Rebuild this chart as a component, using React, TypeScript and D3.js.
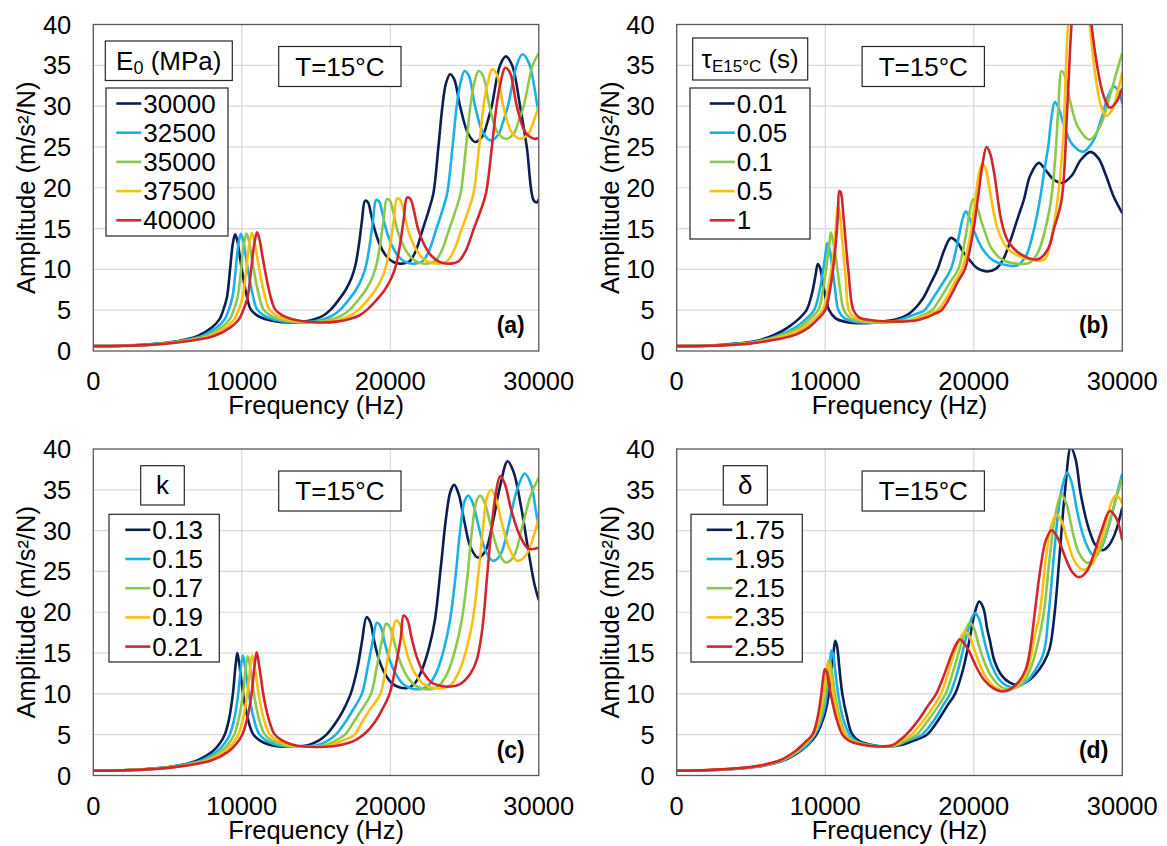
import React from "react";
import * as d3 from "d3";

type Pt = [number, number];

const COLORS = ["#0b1f55", "#1cb0e8", "#8cc84b", "#fbbf10", "#d0262e"];
const X_TICKS = [0, 10000, 20000, 30000];
const Y_TICKS = [0, 5, 10, 15, 20, 25, 30, 35, 40];
const X_GRID = [10000, 20000];
const Y_GRID = [5, 10, 15, 20, 25, 30, 35];

// ---------- Panel (a): E0 (MPa) ----------
const aLabels = ["30000", "32500", "35000", "37500", "40000"];
const aE30000: Pt[] = [[0,0.6],[2000,0.65],[4000,0.85],[5500,1.15],[7000,1.8],[8000,2.9],[8500,3.9],[8750,5],[9000,6.6],[9210,10],[9400,13.2],[9550,14.3],[9700,13.5],[9850,11.8],[10000,10],[10300,7],[10600,5.1],[11000,4.4],[11500,3.95],[12200,3.65],[13200,3.5],[14200,3.6],[15000,3.95],[15500,4.35],[16000,5.1],[16500,6.2],[17000,7.5],[17400,9],[17650,10.5],[17900,13.2],[18100,16.1],[18300,18.4],[18500,18.2],[18700,16.8],[18930,15],[19300,13],[19700,11.7],[20200,10.9],[20800,10.7],[21300,11],[21700,12.2],[22200,15],[22600,17.3],[22900,19.3],[23240,25],[23510,30],[23750,32.8],[24025,33.9],[24300,33.3],[24700,30],[25200,26.8],[25710,25.6],[26200,26.3],[26500,27.8],[26830,30],[27390,35],[27780,36.1],[28200,35],[28740,30],[29190,25],[29640,18.5],[29850,18.2],[30000,18.6]];
const aE32500: Pt[] = [[0,0.6],[2000,0.65],[4000,0.83],[5500,1.1],[7300,1.8],[8330,2.9],[8850,3.9],[9110,5],[9370,6.6],[9590,10],[9780,13.2],[9940,14.35],[10100,13.5],[10250,11.8],[10410,10],[10720,7],[11030,5.1],[11450,4.4],[11970,3.95],[12700,3.65],[13740,3.5],[14780,3.6],[15610,3.95],[16130,4.35],[16650,5.1],[17170,6.2],[17690,7.5],[18110,9],[18370,10.5],[18630,13.2],[18840,16.1],[19050,18.5],[19250,18.3],[19460,16.9],[19700,15],[20090,13],[20500,11.7],[21020,10.9],[21650,10.7],[22170,11],[22590,12.2],[23110,15],[23520,17.3],[23830,19.3],[24190,25],[24470,30],[24720,32.8],[25000,34.3],[25290,33.7],[25710,30],[26230,26.8],[26760,25.8],[27270,26.5],[27580,28],[27920,30],[28510,35],[28900,36.35],[29350,35.2],[29910,30],[30000,29.3]];
const aE35000: Pt[] = [[0,0.6],[2000,0.64],[4000,0.81],[5500,1.07],[7560,1.8],[8640,2.9],[9180,3.9],[9450,5],[9720,6.6],[9950,10],[10150,13.2],[10320,14.4],[10480,13.5],[10640,11.8],[10800,10],[11130,7],[11450,5.1],[11880,4.4],[12420,3.95],[13180,3.65],[14260,3.5],[15340,3.6],[16200,3.95],[16740,4.35],[17280,5.1],[17820,6.2],[18360,7.5],[18790,9],[19060,10.5],[19330,13.2],[19550,16.1],[19770,18.6],[19980,18.4],[20200,17],[20450,15],[20850,13],[21280,11.7],[21820,10.9],[22470,10.7],[23010,11],[23440,12.2],[23980,15],[24410,17.3],[24730,19.3],[25100,25],[25390,30],[25650,32.8],[25950,34.3],[26250,33.7],[26680,30],[27220,26.8],[27770,26],[28300,26.6],[28620,28],[28980,30],[29590,35],[30000,36.5]];
const aE37500: Pt[] = [[0,0.6],[2000,0.64],[4000,0.8],[5500,1.05],[7830,1.8],[8940,2.9],[9500,3.9],[9780,5],[10060,6.6],[10300,10],[10510,13.2],[10680,14.45],[10840,13.5],[11010,11.8],[11180,10],[11520,7],[11850,5.1],[12300,4.4],[12860,3.95],[13640,3.65],[14760,3.5],[15880,3.6],[16770,3.95],[17330,4.35],[17890,5.1],[18450,6.2],[19010,7.5],[19450,9],[19730,10.5],[20010,13.2],[20240,16.1],[20460,18.7],[20680,18.5],[20910,17.1],[21160,15],[21580,13],[22020,11.7],[22580,10.9],[23250,10.7],[23810,11],[24260,12.2],[24820,15],[25270,17.3],[25600,19.3],[25980,25],[26280,30],[26550,32.8],[26860,34.5],[27170,33.9],[27610,30],[28170,26.8],[28740,26],[29290,26.6],[29630,28],[30000,30]];
const aE40000: Pt[] = [[0,0.6],[2000,0.63],[4000,0.78],[5500,1.02],[8080,1.8],[9240,2.9],[9810,3.9],[10100,5],[10390,6.6],[10630,10],[10850,13.2],[11030,14.55],[11200,13.6],[11370,11.8],[11550,10],[11890,7],[12240,5.1],[12700,4.4],[13280,3.95],[14090,3.65],[15240,3.5],[16400,3.6],[17320,3.95],[17900,4.35],[18470,5.1],[19050,6.2],[19630,7.5],[20090,9],[20380,10.5],[20670,13.2],[20900,16.1],[21130,18.8],[21360,18.6],[21590,17.2],[21860,15],[22290,13],[22750,11.7],[23320,10.9],[24010,10.7],[24600,11],[25060,12.2],[25630,15],[26100,17.3],[26440,19.3],[26840,25],[27150,30],[27420,32.8],[27740,34.7],[28060,34.1],[28520,30],[29100,26.8],[29690,26],[30000,26.1]];

// ---------- Panel (b): tau_E15°C (s) ----------
const bLabels = ["0.01", "0.05", "0.1", "0.5", "1"];
const bT001: Pt[] = [[0,0.6],[2000,0.65],[4000,0.9],[5500,1.3],[6600,2],[7500,2.9],[8200,3.9],[8740,5],[9100,7],[9350,9.3],[9500,10.65],[9650,10.2],[9830,8.5],[10050,6.3],[10260,5],[10700,4],[11300,3.6],[12600,3.4],[13800,3.6],[14800,3.9],[15500,4.4],[15930,5],[16600,6.5],[17100,8.3],[17560,10],[18000,12.3],[18450,13.85],[18900,13.3],[19300,12.1],[19700,11.2],[20200,10.2],[20840,9.75],[21500,10.1],[22000,11.3],[22500,13.7],[23000,16.5],[23370,18.5],[23800,21.5],[24380,23.05],[24900,22],[25450,20.9],[25975,20.6],[26600,21.5],[27200,23.4],[27860,24.4],[28400,23.6],[28900,21.5],[29400,19],[30000,16.9]];
const bT005: Pt[] = [[0,0.6],[2000,0.64],[4000,0.85],[5500,1.2],[7000,2],[8000,2.9],[8700,3.9],[9250,5],[9600,7.2],[9850,9.8],[10050,12.3],[10130,13.2],[10250,12.8],[10450,10.6],[10650,7.8],[10890,5],[11300,4],[12000,3.6],[13500,3.5],[14800,3.7],[15600,4.2],[16200,4.6],[16680,5],[17300,6.6],[17900,8.3],[18450,10],[18900,13.2],[19250,16.2],[19450,17.1],[19650,16.6],[20000,14.8],[20590,12.5],[21300,11.1],[22000,10.6],[22860,10.45],[23500,11.6],[24000,14.5],[24450,18.5],[24740,22],[25010,25],[25250,28.8],[25460,30.5],[25700,29.8],[26100,27.5],[26600,25.4],[27360,24.4],[28000,25.6],[28600,28.5],[29100,31.5],[29450,32.4],[29750,31.8],[30000,30.3]];
const bT01: Pt[] = [[0,0.6],[2000,0.64],[4000,0.83],[5500,1.15],[7200,2],[8300,2.9],[8950,3.9],[9530,5],[9850,7.5],[10100,10.5],[10300,13.5],[10380,14.5],[10500,13.7],[10750,11],[11000,7.5],[11260,5],[11700,4],[12500,3.6],[14200,3.5],[15400,3.7],[16200,4.1],[16700,4.5],[17190,5],[17800,6.6],[18400,8.4],[18950,10],[19400,13.5],[19750,17.3],[19960,18.6],[20200,17.8],[20600,15.4],[21220,12.5],[22000,11.1],[22900,10.7],[23740,10.8],[24300,12],[24800,14.8],[25200,18.5],[25500,24],[25700,30],[25910,34.3],[26150,33.6],[26500,30.5],[27000,27.5],[27810,25.9],[28500,27.5],[29200,31.5],[29700,34.7],[30000,36.5]];
const bT05: Pt[] = [[0,0.6],[2000,0.63],[4000,0.8],[5500,1.1],[7500,2],[8600,2.9],[9250,3.9],[9830,5],[10200,7.8],[10500,11],[10700,14.8],[10840,17.7],[10950,17.2],[11100,14.5],[11350,9.5],[11590,5],[11900,4.2],[12500,3.8],[14500,3.6],[15600,3.7],[16400,4.1],[17000,4.5],[17560,5],[18200,6.6],[18700,8.4],[19200,10],[19700,13.5],[20100,18.5],[20400,22.2],[20590,22.9],[20800,22.3],[21100,19.5],[21600,15],[22300,12.5],[23400,11.4],[24750,11.2],[25100,12.8],[25640,18.5],[26000,25.5],[26350,40],[26700,46],[27100,47],[27500,45],[27810,40],[28100,35],[28500,30.5],[28890,28.8],[29300,29.5],[29700,31.8],[30000,34.2]];
const bT1: Pt[] = [[0,0.6],[2000,0.63],[4000,0.78],[5500,1.05],[7990,2],[8900,2.9],[9500,3.9],[10000,5],[10350,7.8],[10650,12],[10850,16.5],[10950,19.6],[11050,19.4],[11250,16],[11550,10],[11900,5],[12300,4.1],[13000,3.8],[15000,3.6],[16000,3.7],[16800,4.1],[17300,4.5],[17820,5],[18400,6.6],[18900,8.4],[19400,10],[19900,14],[20300,19],[20600,23],[20860,25],[21100,24.2],[21400,21.5],[21850,16],[22300,13.5],[23200,11.8],[24370,11.27],[25000,12.5],[25400,15],[25910,18.5],[26300,30],[26580,40],[26900,47],[27300,49],[27700,45],[27930,40],[28300,35],[28700,31.5],[29160,29.8],[29600,30.5],[30000,32.2]];

// ---------- Panel (c): k ----------
const cLabels = ["0.13", "0.15", "0.17", "0.19", "0.21"];
const cK013: Pt[] = [[0,0.6],[2000,0.65],[4000,0.85],[5500,1.15],[7000,1.85],[8000,2.9],[8500,3.9],[8850,5],[9150,7],[9400,10],[9580,13.5],[9700,15],[9820,13.8],[9960,11.8],[10150,9.3],[10400,7],[10750,5.1],[11200,4.3],[11800,3.8],[12500,3.55],[13500,3.55],[14500,3.75],[15200,4.3],[15700,5],[16300,6.4],[16800,7.9],[17330,10],[17800,13.3],[18100,16.5],[18400,19.4],[18650,18.8],[18900,16.6],[19200,14.4],[19600,12.6],[20100,11.3],[20600,10.8],[21080,10.7],[21600,11.2],[22100,12.8],[22600,15.6],[23000,19],[23400,25.5],[23750,31.5],[24050,34.8],[24300,35.6],[24600,34.5],[25000,31],[25400,28],[25900,26.7],[26400,27.5],[26900,31],[27400,35.5],[27900,38.5],[28300,37.2],[28800,33],[29300,27.5],[29700,23.5],[30000,21.5]];
const cK015: Pt[] = [[0,0.6],[2000,0.64],[4000,0.83],[5500,1.12],[7270,1.85],[8300,2.9],[8820,3.9],[9190,5],[9500,7],[9760,10],[9940,13.3],[10075,14.7],[10200,13.6],[10340,11.8],[10540,9.3],[10800,7],[11160,5.1],[11630,4.3],[12250,3.8],[13000,3.55],[14000,3.55],[15050,3.7],[15780,4.25],[16330,5],[16920,6.4],[17440,7.9],[18080,10],[18480,13.3],[18790,16.2],[19100,18.7],[19360,18.2],[19620,16.3],[19930,14.3],[20350,12.5],[20860,11.2],[21380,10.7],[22080,10.6],[22600,11.1],[23100,12.6],[23600,15.4],[24000,18.8],[24400,24.5],[24700,30],[25000,33.6],[25250,34.3],[25550,33.4],[25950,30.5],[26400,27.6],[26900,26.3],[27400,27],[27950,30.5],[28500,34.8],[29050,37],[29450,35.8],[29800,32.5],[30000,30.2]];
const cK017: Pt[] = [[0,0.6],[2000,0.64],[4000,0.81],[5500,1.09],[7500,1.85],[8580,2.9],[9110,3.9],[9490,5],[9800,7],[10080,10],[10270,13.3],[10400,14.6],[10530,13.6],[10680,11.8],[10880,9.3],[11150,7],[11520,5.1],[12000,4.3],[12650,3.8],[13400,3.55],[14470,3.55],[15550,3.7],[16300,4.25],[16950,5],[17480,6.4],[18010,7.9],[18700,10],[19090,13.3],[19400,16.2],[19720,18.6],[20000,18.1],[20270,16.3],[20590,14.3],[21010,12.5],[21540,11.2],[22080,10.7],[22830,10.6],[23340,11.1],[23860,12.6],[24370,15.4],[24790,18.8],[25200,24.5],[25500,30],[25800,33.6],[26050,34.3],[26360,33.4],[26780,30.5],[27250,27.6],[27770,26.1],[28300,26.8],[28860,30.3],[29450,34.3],[30000,36.5]];
const cK019: Pt[] = [[0,0.6],[2000,0.63],[4000,0.8],[5500,1.06],[7720,1.85],[8820,2.9],[9380,3.9],[9760,5],[10090,7],[10370,10],[10570,13.3],[10700,14.7],[10840,13.6],[10990,11.8],[11200,9.3],[11470,7],[11860,5.1],[12350,4.3],[13000,3.8],[13790,3.55],[14890,3.55],[16000,3.7],[16770,4.25],[17580,5],[18050,6.4],[18560,7.9],[19330,10],[19720,13.3],[20040,16.3],[20380,19],[20650,18.5],[20900,16.6],[21200,14.5],[21630,12.6],[22180,11.3],[22730,10.8],[23580,10.7],[24120,11.2],[24650,12.8],[25150,15.6],[25550,19],[25950,25],[26250,30.5],[26500,34],[26800,35],[27100,34],[27500,31],[27980,28],[28540,26.3],[29100,26.9],[29600,29],[30000,31.7]];
const cK021: Pt[] = [[0,0.6],[2000,0.63],[4000,0.78],[5500,1.03],[7940,1.85],[9070,2.9],[9640,3.9],[10030,5],[10370,7],[10660,10],[10860,13.5],[11000,15.1],[11140,13.8],[11300,11.8],[11510,9.3],[11800,7],[12190,5.1],[12700,4.3],[13380,3.8],[14200,3.55],[15300,3.5],[16400,3.65],[17230,4],[17800,4.5],[18330,5.2],[18900,6.4],[19400,7.9],[19950,10],[20350,13.3],[20700,16.8],[20900,19.6],[21150,19.1],[21430,16.9],[21770,14.6],[22230,12.6],[22780,11.4],[23400,11],[24080,10.9],[24700,11.2],[25400,12.5],[25830,14.2],[26200,18],[26500,24],[26800,30],[27100,34.5],[27400,36.7],[27700,35.8],[28150,32.5],[28700,29.5],[29300,27.8],[30000,27.9]];

// ---------- Panel (d): delta ----------
const dLabels = ["1.75", "1.95", "2.15", "2.35", "2.55"];
const dD175: Pt[] = [[0,0.6],[2000,0.64],[4000,0.82],[5500,1.1],[7000,1.7],[8000,2.6],[8800,3.7],[9400,5],[9800,6.6],[10100,8.5],[10350,11.5],[10550,15],[10680,16.5],[10800,15.8],[10950,13.2],[11150,10],[11450,7.3],[11800,5.1],[12300,4.2],[13000,3.8],[14000,3.55],[15000,3.7],[16000,4.3],[16840,5],[17500,6.5],[18200,8.5],[18740,10],[19250,12.8],[19700,16.5],[20050,19.8],[20365,21.3],[20650,20.5],[20900,18],[21080,16.6],[21400,14],[21900,12.2],[22400,11.4],[22900,11.1],[23500,11.4],[24100,12.3],[24700,13.8],[25100,15.5],[25450,20],[25800,27.5],[26150,35],[26535,40.2],[26850,38.8],[27200,34.5],[27700,30.5],[28200,28.2],[28670,27.6],[29100,28.2],[29500,29.6],[30000,32.8]];
const dD195: Pt[] = [[0,0.6],[2000,0.64],[4000,0.83],[5500,1.12],[7000,1.75],[8000,2.7],[8800,3.8],[9300,5],[9700,6.6],[10000,8.7],[10200,11.5],[10330,14],[10420,15.3],[10530,14.8],[10700,12.4],[10900,9.6],[11200,7],[11650,5],[12100,4.2],[12800,3.8],[13900,3.55],[14800,3.7],[15600,4.3],[16500,5],[17300,6.7],[17900,8.5],[18400,10],[18950,13],[19400,16.3],[19800,19],[20075,19.9],[20350,19.2],[20650,17],[20850,15.5],[21200,13.5],[21700,11.8],[22200,11],[22600,10.8],[23100,11],[23600,11.6],[24100,12.8],[24700,15],[25050,20],[25400,27],[25700,32.5],[25950,35.3],[26290,37.1],[26600,35.8],[27000,32],[27500,28.7],[28035,27],[28500,27.6],[29000,30],[29500,33.5],[30000,37]];
const dD215: Pt[] = [[0,0.6],[2000,0.65],[4000,0.84],[5500,1.14],[7000,1.8],[8000,2.8],[8700,3.9],[9220,5],[9600,6.6],[9900,8.8],[10100,11.5],[10230,14.1],[10330,13.9],[10500,12],[10700,9.5],[11000,7],[11400,5],[11900,4.2],[12600,3.8],[13800,3.55],[14700,3.7],[15400,4.3],[16150,5],[16900,6.7],[17600,8.5],[18100,10],[18650,13],[19100,15.8],[19500,18],[19740,18.7],[20000,18.1],[20300,16.2],[20700,14],[21100,12.4],[21600,11.2],[22000,10.7],[22400,10.6],[22900,10.8],[23400,11.6],[23900,13.5],[24350,16.5],[24720,20],[25100,26.5],[25500,32],[25910,34.4],[26250,33.2],[26700,29.5],[27100,27.2],[27630,26.05],[28200,26.7],[28700,28.6],[29200,31.5],[29600,34],[30000,36.45]];
const dD235: Pt[] = [[0,0.6],[2000,0.65],[4000,0.85],[5500,1.16],[7000,1.85],[8000,2.9],[8600,3.9],[9180,5],[9550,6.8],[9850,9.5],[10030,12],[10150,13.7],[10250,13.4],[10400,11.8],[10600,9.5],[10900,7],[11300,5],[11800,4.2],[12500,3.8],[13700,3.55],[14600,3.7],[15200,4.3],[15800,5],[16600,6.7],[17300,8.5],[17800,10],[18350,13],[18850,15.8],[19400,17.6],[19700,17.1],[20000,15.6],[20400,13.6],[20800,12.1],[21300,11],[21800,10.5],[22200,10.4],[22700,10.7],[23200,11.6],[23700,13.5],[24100,17],[24450,20],[24850,26.5],[25200,30.5],[25570,32],[25900,31.2],[26300,28.8],[26800,26.2],[27360,25.2],[27900,25.8],[28400,27.8],[28900,31],[29300,33.6],[29560,34.3],[29800,34],[30000,33.3]];
const dD255: Pt[] = [[0,0.6],[2000,0.66],[4000,0.87],[5500,1.18],[7000,1.9],[8000,3],[8600,4],[9140,5],[9450,6.8],[9700,9.5],[9850,11.8],[9980,13],[10100,12.7],[10250,11.2],[10450,9.3],[10750,7],[11160,5],[11650,4.2],[12400,3.8],[13600,3.55],[14500,3.7],[15000,4.3],[15450,5],[16200,6.6],[16900,8.5],[17470,10],[18000,12.3],[18500,14.8],[18850,16.2],[19060,16.7],[19350,16.2],[19750,15],[20200,13.2],[20700,11.7],[21300,10.7],[21890,10.3],[22400,10.5],[23000,11.4],[23500,13],[23800,15.5],[24110,20],[24500,25.5],[24850,28.8],[25235,30.05],[25600,29.3],[26100,27],[26600,25],[27090,24.3],[27600,25],[28100,27.2],[28600,30],[29160,32.4],[29600,31.5],[30000,28.8]];

type PanelDef = {
  x0: number; x1: number; y0: number; y1: number;
  series: Pt[][];
  labels: string[];
  title: "E" | "tau" | "k" | "delta";
  titleBox: [number, number, number, number];
  legBox: [number, number, number, number];
  lineX: [number, number];
  textX: number;
  tag: string;
};

const PANELS: PanelDef[] = [
  { x0: 93.3, x1: 538.8, y0: 24.5, y1: 351, series: [aE30000, aE32500, aE35000, aE37500, aE40000], labels: aLabels, title: "E", titleBox: [12, 16.5, 127, 39.5], legBox: [12.7, 63.5, 122, 148], lineX: [23, 48], textX: 50, tag: "(a)" },
  { x0: 676.7, x1: 1122.3, y0: 24.5, y1: 351, series: [bT001, bT005, bT01, bT05, bT1], labels: bLabels, title: "tau", titleBox: [16, 13.5, 115, 42], legBox: [13.3, 63.5, 120, 151], lineX: [33, 58], textX: 60, tag: "(b)" },
  { x0: 93.3, x1: 538.8, y0: 449, y1: 775.5, series: [cK013, cK015, cK017, cK019, cK021], labels: cLabels, title: "k", titleBox: [47.4, 16.7, 43.6, 39.3], legBox: [15.7, 65.3, 110.3, 147.7], lineX: [32, 57], textX: 59, tag: "(c)" },
  { x0: 676.7, x1: 1122.3, y0: 449, y1: 775.5, series: [dD175, dD195, dD215, dD235, dD255], labels: dLabels, title: "delta", titleBox: [46.6, 16.7, 44, 39.3], legBox: [14.3, 65.3, 111.3, 147.7], lineX: [30, 55.6], textX: 57.5, tag: "(d)" },
];

const FONT = "'Liberation Sans', Arial, Helvetica, sans-serif";

function Title({ kind, cx, cy }: { kind: PanelDef["title"]; cx: number; cy: number }) {
  const common = { x: cx, y: cy, textAnchor: "middle" as const, dominantBaseline: "central" as const, fontSize: 26, fill: "#000", fontFamily: FONT };
  if (kind === "E")
    return (
      <text {...common}>
        <tspan>E</tspan>
        <tspan dy={7} fontSize={18}>0</tspan>
        <tspan dy={-7}> (MPa)</tspan>
      </text>
    );
  if (kind === "tau")
    return (
      <text {...common}>
        <tspan>τ</tspan>
        <tspan dy={7} fontSize={17}>E15°C</tspan>
        <tspan dy={-7}> (s)</tspan>
      </text>
    );
  if (kind === "k") return <text {...common}>k</text>;
  return <text {...common}>δ</text>;
}

function Panel({ p, idx }: { p: PanelDef; idx: number }) {
  const x = d3.scaleLinear().domain([0, 30000]).range([p.x0, p.x1]);
  const y = d3.scaleLinear().domain([0, 40]).range([p.y1, p.y0]);
  const line = d3.line<Pt>().x((d) => x(d[0])).y((d) => y(d[1])).curve(d3.curveCatmullRom.alpha(0.5));
  const clipId = `clip-${idx}`;
  const [tbx, tby, tbw, tbh] = p.titleBox;
  const [lbx, lby, lbw, lbh] = p.legBox;
  const entryY0 = p.y0 + lby + 15.5;
  const step = 29.2;
  return (
    <g>
      <defs>
        <clipPath id={clipId}>
          <rect x={p.x0} y={p.y0} width={p.x1 - p.x0} height={p.y1 - p.y0} />
        </clipPath>
      </defs>
      {Y_GRID.map((v) => (
        <line key={"gy" + v} x1={p.x0} x2={p.x1} y1={y(v)} y2={y(v)} stroke="#d9d9d9" strokeWidth={1.2} />
      ))}
      {X_GRID.map((v) => (
        <line key={"gx" + v} x1={x(v)} x2={x(v)} y1={p.y0} y2={p.y1} stroke="#d9d9d9" strokeWidth={1.2} />
      ))}
      <g clipPath={`url(#${clipId})`}>
        {p.series.map((s, i) => (
          <path key={i} d={line(s) || ""} fill="none" stroke={COLORS[i]} strokeWidth={2.6} strokeLinejoin="round" />
        ))}
      </g>
      <rect x={p.x0} y={p.y0} width={p.x1 - p.x0} height={p.y1 - p.y0} fill="none" stroke="#595959" strokeWidth={1.3} />
      {Y_TICKS.map((v) => (
        <text key={"ty" + v} x={p.x0 - 22} y={y(v)} textAnchor="end" dominantBaseline="central" fontSize={25.5} fontFamily={FONT} fill="#000">
          {v}
        </text>
      ))}
      {X_TICKS.map((v) => (
        <text key={"tx" + v} x={x(v)} y={p.y1 + 39} textAnchor="middle" fontSize={25.5} fontFamily={FONT} fill="#000">
          {v}
        </text>
      ))}
      <text x={(p.x0 + p.x1) / 2} y={p.y1 + 63} textAnchor="middle" fontSize={25.5} fontFamily={FONT} fill="#000">
        Frequency (Hz)
      </text>
      <text transform={`translate(${p.x0 - 58},${(p.y0 + p.y1) / 2}) rotate(-90)`} textAnchor="middle" fontSize={25.5} fontFamily={FONT} fill="#000">
        Amplitude (m/s²/N)
      </text>
      {/* legend title */}
      <rect x={p.x0 + tbx} y={p.y0 + tby} width={tbw} height={tbh} fill="#fff" stroke="#262626" strokeWidth={1.2} />
      <Title kind={p.title} cx={p.x0 + tbx + tbw / 2} cy={p.y0 + tby + tbh / 2} />
      {/* legend */}
      <rect x={p.x0 + lbx} y={p.y0 + lby} width={lbw} height={lbh} fill="#fff" stroke="#262626" strokeWidth={1.2} />
      {p.labels.map((lab, i) => (
        <g key={lab}>
          <line x1={p.x0 + p.lineX[0]} x2={p.x0 + p.lineX[1]} y1={entryY0 + i * step} y2={entryY0 + i * step} stroke={COLORS[i]} strokeWidth={2.6} />
          <text x={p.x0 + p.textX} y={entryY0 + i * step} dominantBaseline="central" fontSize={26} fontFamily={FONT} fill="#000">
            {lab}
          </text>
        </g>
      ))}
      {/* T box */}
      <rect x={p.x0 + 185.4} y={p.y0 + 22} width={122.3} height={40} fill="#fff" stroke="#262626" strokeWidth={1.2} />
      <text x={p.x0 + 185.4 + 61.15} y={p.y0 + 42} textAnchor="middle" dominantBaseline="central" fontSize={26} fontFamily={FONT} fill="#000">
        T=15°C
      </text>
      <text x={p.x1 - 14} y={p.y1 - 18} textAnchor="end" fontSize={23} fontWeight="bold" fontFamily={FONT} fill="#000">
        {p.tag}
      </text>
    </g>
  );
}

export default function App() {
  return (
    <svg width={1167} height={846} style={{ position: "absolute", left: 0, top: 0, background: "#fff" }}>
      <rect x={0} y={0} width={1167} height={846} fill="#fff" />
      {PANELS.map((p, i) => (
        <Panel key={i} p={p} idx={i} />
      ))}
    </svg>
  );
}
